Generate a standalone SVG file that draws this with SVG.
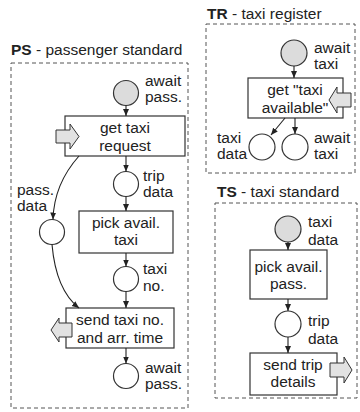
<svg xmlns="http://www.w3.org/2000/svg" width="360" height="412" viewBox="0 0 360 412">
  <style>
    text { font-family: "Liberation Sans", Arial, sans-serif; font-size: 15.5px; fill: #222; }
    .title tspan.b { font-weight: bold; }
    .mid { text-anchor: middle; }
    .frame { fill: none; stroke: #555; stroke-width: 1; stroke-dasharray: 4 3; }
    .place { fill: #fff; stroke: #333; stroke-width: 1.2; }
    .place.marked { fill: #dcdcdc; }
    .trans { fill: #fff; stroke: #333; stroke-width: 1.2; }
    .port { fill: #e2e2e2; stroke: #333; stroke-width: 1; stroke-linejoin: miter; }
    .arc { fill: none; stroke: #222; stroke-width: 1.1; marker-end: url(#ah); }
  </style>
  <defs>
    <marker id="ah" viewBox="0 0 8 8" refX="8" refY="4" markerWidth="7" markerHeight="7" orient="auto" markerUnits="userSpaceOnUse">
      <path d="M0,0.6 L8,4 L0,7.4 z" fill="#222"/>
    </marker>
  </defs>

  <rect width="360" height="412" fill="#fff"/>

  <!-- PS: passenger standard -->
  <g id="ps-frame">
    <text class="title" x="11" y="55"><tspan class="b">PS</tspan> - passenger standard</text>
    <rect class="frame" x="11" y="63" width="177" height="345"/>
  </g>
  <g id="ps-await-pass-1">
    <circle class="place marked" cx="126" cy="93" r="12.5"/>
    <text x="145" y="86">await</text>
    <text x="145" y="102">pass.</text>
  </g>
  <g id="ps-get-taxi-request">
    <rect class="trans" x="65" y="116" width="120" height="40"/>
    <text class="mid" x="125" y="133">get taxi</text>
    <text class="mid" x="125" y="151">request</text>
    <polygon class="port" points="56,130 70,130 70,124 79,136.5 70,149 70,143 56,143"/>
  </g>
  <g id="ps-trip-data">
    <circle class="place" cx="126" cy="184" r="12.5"/>
    <text x="143" y="181">trip</text>
    <text x="143" y="197">data</text>
  </g>
  <g id="ps-pass-data">
    <circle class="place" cx="52" cy="232" r="12.5"/>
    <text x="17" y="195">pass.</text>
    <text x="17" y="211">data</text>
  </g>
  <g id="ps-pick-avail-taxi">
    <rect class="trans" x="79" y="211" width="94" height="42"/>
    <text class="mid" x="126" y="228">pick avail.</text>
    <text class="mid" x="126" y="245">taxi</text>
  </g>
  <g id="ps-taxi-no">
    <circle class="place" cx="126" cy="279" r="12.5"/>
    <text x="143" y="274">taxi</text>
    <text x="143" y="291">no.</text>
  </g>
  <g id="ps-send-taxi-no">
    <rect class="trans" x="66" y="308" width="108" height="40"/>
    <text class="mid" x="120" y="325">send taxi no.</text>
    <text class="mid" x="120" y="343">and arr. time</text>
    <polygon class="port" points="72,323 59,323 59,318 51,330 59,342 59,337 72,337"/>
  </g>
  <g id="ps-await-pass-2">
    <circle class="place" cx="126" cy="376" r="12.5"/>
    <text x="145" y="373">await</text>
    <text x="145" y="389">pass.</text>
  </g>

  <!-- TR: taxi register -->
  <g id="tr-frame">
    <text class="title" x="207" y="19"><tspan class="b">TR</tspan> - taxi register</text>
    <rect class="frame" x="206" y="24" width="149" height="149"/>
  </g>
  <g id="tr-await-taxi-1">
    <circle class="place marked" cx="294" cy="53" r="13"/>
    <text x="314" y="53">await</text>
    <text x="314" y="69">taxi</text>
  </g>
  <g id="tr-get-taxi-available">
    <rect class="trans" x="248" y="78" width="95" height="40"/>
    <text class="mid" x="295" y="95">get "taxi</text>
    <text class="mid" x="295" y="113">available"</text>
    <polygon class="port" points="351,93 337,93 337,87 329,100 337,113 337,107 351,107"/>
  </g>
  <g id="tr-taxi-data">
    <circle class="place" cx="262" cy="147" r="13"/>
    <text x="217" y="143">taxi</text>
    <text x="217" y="159">data</text>
  </g>
  <g id="tr-await-taxi-2">
    <circle class="place" cx="295" cy="147" r="13"/>
    <text x="314" y="143">await</text>
    <text x="314" y="159">taxi</text>
  </g>

  <!-- TS: taxi standard -->
  <g id="ts-frame">
    <text class="title" x="217" y="197"><tspan class="b">TS</tspan> - taxi standard</text>
    <rect class="frame" x="215" y="203" width="142" height="195"/>
  </g>
  <g id="ts-taxi-data">
    <circle class="place marked" cx="288" cy="229" r="13"/>
    <text x="308" y="227">taxi</text>
    <text x="308" y="245">data</text>
  </g>
  <g id="ts-pick-avail-pass">
    <rect class="trans" x="250" y="250" width="77" height="49"/>
    <text class="mid" x="288.5" y="272">pick avail.</text>
    <text class="mid" x="288.5" y="289">pass.</text>
  </g>
  <g id="ts-trip-data">
    <circle class="place" cx="288" cy="324" r="13"/>
    <text x="308" y="326">trip</text>
    <text x="308" y="344">data</text>
  </g>
  <g id="ts-send-trip-details">
    <rect class="trans" x="250" y="353" width="87" height="42"/>
    <text class="mid" x="293" y="370">send trip</text>
    <text class="mid" x="293" y="387">details</text>
    <polygon class="port" points="330,363 344,363 344,357 352,370 344,383 344,377 330,377"/>
  </g>

  <!-- arcs -->
  <g id="connectors">
    <path class="arc" d="M126,105.5 V116"/>
    <path class="arc" d="M126,156 V171.5"/>
    <path class="arc" d="M126,196.5 V211"/>
    <path class="arc" d="M126,253 V266.5"/>
    <path class="arc" d="M126,291.5 V308"/>
    <path class="arc" d="M126,348 V363.5"/>
    <path class="arc" d="M79,156 Q54,184 53,219.5"/>
    <path class="arc" d="M52,244.5 Q56,290 79,308"/>

    <path class="arc" d="M294,66 V78"/>
    <path class="arc" d="M295,118 V134"/>
    <path class="arc" d="M285,118 L271,135"/>

    <path class="arc" d="M288,242 V250"/>
    <path class="arc" d="M288,299 V311"/>
    <path class="arc" d="M288,337 V353"/>
  </g>
</svg>
